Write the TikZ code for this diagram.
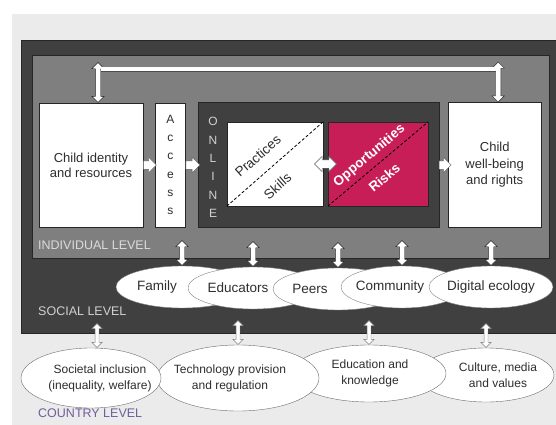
\documentclass[tikz,border=0pt]{standalone}
\usepackage{fontspec}
\setmainfont{Liberation Sans}
\usetikzlibrary{shapes.geometric, shapes.arrows, positioning, calc}

\definecolor{bggrey}{HTML}{EBEBEB}
\definecolor{socgrey}{HTML}{404040}
\definecolor{indgrey}{HTML}{7F7F7F}
\definecolor{edgegrey}{HTML}{262626}
\definecolor{txtgrey}{HTML}{2E2E2E}
\definecolor{riskred}{HTML}{C81E58}
\definecolor{countryviolet}{HTML}{6F5F9C}

\begin{document}
\begin{tikzpicture}[
	x=1pt, y=-1pt,
	box/.style={draw=edgegrey, fill=white, inner sep=0pt, align=center, text=txtgrey, font=\fontsize{13}{15}\selectfont},
	level/.style={draw=edgegrey, inner sep=0pt, anchor=north west},
	leveltext/.style={anchor=west, inner sep=0pt, font=\fontsize{12.5}{15}\selectfont},
	social/.style={ellipse, draw=gray, fill=white, inner sep=0pt, minimum height=42pt},
	socialtext/.style={inner sep=0pt, text=txtgrey, font=\fontsize{13.5}{16}\selectfont},
	country/.style={ellipse, draw=gray!85!black, fill=white, inner sep=0pt},
	countrytext/.style={inner sep=0pt, align=center, text=txtgrey, font=\fontsize{12}{16}\selectfont},
	updown/.style={double arrow, draw=edgegrey, fill=white, rotate=90, anchor=west, inner xsep=0pt, inner ysep=2.5pt, double arrow head extend=3.5pt},
	thinupdown/.style={updown, draw=gray, inner ysep=1.75pt, double arrow head extend=3.25pt},
	fwd/.style={single arrow, draw=gray!70!black, fill=white, anchor=west, inner xsep=0pt, inner ysep=4pt, single arrow head extend=3.5pt},
	diag/.style={dash pattern=on 3pt off 2pt, line width=0.8pt}
	]
	\useasboundingbox (0,0) rectangle (556,425);
	\fill[bggrey] (12,14) rectangle (556,425);

	% social and individual level
	\node[level, fill=socgrey, minimum width=537pt, minimum height=293pt] (soc) at (21,40) {};
	\node[level, fill=indgrey, minimum width=517pt, minimum height=203pt] (ind) at (32,55) {};
	\node[leveltext, text=white!86!black] (indlbl) at (38,245) {INDIVIDUAL LEVEL};
	\node[leveltext, text=white!82!black] (soclbl) at (38,311) {SOCIAL LEVEL};
	\node[leveltext, text=countryviolet] (ctylbl) at (38,413) {COUNTRY LEVEL};

	% individual level
	\node[box, minimum width=104pt, minimum height=124pt] (cid) at (91,165) {Child identity\\and resources};
	\node[box, minimum width=30pt, minimum height=124pt, font=\fontsize{12}{18.2}\selectfont] (acc) [right=12pt of cid] {A\\c\\c\\e\\s\\s};
	\node[level, fill=socgrey, minimum width=241pt, minimum height=125pt] (onl) [right=12pt of acc] {};
	\node[box, minimum width=93pt, minimum height=125pt, font=\fontsize{13}{16.5}\selectfont] (cwb) [right=9pt of onl] {Child\\well-being\\and rights};
	\node[align=center, text=white!82!black, font=\fontsize{12}{18.3}\selectfont] (onltxt) at (213,167.5) {O\\N\\L\\I\\N\\E};
	\node[box, minimum width=96pt, minimum height=84pt] (prac) at (275,164) {};
	\node[box, fill=riskred, minimum width=100pt, minimum height=84pt] (opp) at (378,164) {};
	\draw[diag] (prac.south west) -- (prac.north east)
		node[pos=0.44, sloped, above=12pt, socialtext] (practxt) {Practices}
		node[pos=0.40, sloped, below=13pt, socialtext] (skltxt) {Skills};
	\draw[diag] (opp.south west) -- (opp.north east)
		node[pos=0.49, sloped, above=5pt, socialtext, text=white, font=\fontsize{13.5}{16}\selectfont\bfseries] (opptxt) {Opportunities}
		node[pos=0.47, sloped, below=9pt, socialtext, text=white, font=\fontsize{13.5}{16}\selectfont\bfseries] (risktxt) {Risks};

	\node[fwd, minimum height=13pt] (fw1) at (cid.east) {};
	\node[fwd, minimum height=14pt] (fw2) at (acc.east) {};
	\node[fwd, minimum height=12pt] (fw3) at (onl.east) {};
	\node[double arrow, draw=gray!70!black, fill=white, inner xsep=0pt, inner ysep=4pt, double arrow head extend=3.5pt, minimum height=22pt] (pvo) at ($(prac.east)!0.5!(opp.west)$) {};

	% link between identity and well-being
	\node[updown, minimum height=40pt] (la) at ($(cid.north)+(7,0)$) {};
	\node[updown, minimum height=40pt] (ra) at ($(cwb.north)+(3.5,0)$) {};
	\coordinate (bar) at (0,69.5);
	\draw[draw=gray!60!black, double=white, double distance=4pt, shorten <=2.5pt, shorten >=2.5pt] (la.center |- bar) -- (ra.center |- bar);

	% social level
	\node[social, minimum width=132pt, label={[socialtext, xshift=-25pt]center:Family}] (fam) at (182,287) {};
	\node[social, minimum width=130pt, label={[socialtext, xshift=-15pt]center:Educators}] (edu) at (253,288) {};
	\node[social, minimum width=130pt, label={[socialtext, xshift=-28pt]center:Peers}] (peer) at (338,289) {};
	\node[social, minimum width=122pt, label={[socialtext, xshift=-12pt]center:Community}] (com) at (402,287) {};
	\node[social, minimum width=124pt, label={[socialtext]center:Digital ecology}] (dig) at (491,287) {};

	\node[updown, minimum height=25pt] (upfam) at (fam.north) {};
	\node[updown, minimum height=25pt] (upedu) at (edu.north) {};
	\node[updown, minimum height=25pt] (uppeer) at (peer.north) {};
	\node[updown, minimum height=25pt] (upcom) at (com.north) {};
	\node[updown, minimum height=25pt] (updig) at (dig.north) {};

	% country level
	\node[country, minimum width=136pt, minimum height=54pt, label={[countrytext, xshift=12pt]center:Culture, media\\and values}] (cul) at (486,375) {};
	\node[country, minimum width=154pt, minimum height=57pt, label={[countrytext, xshift=1pt]center:Education and\\knowledge}] (eduk) at (369,373.5) {};
	\node[country, minimum width=162pt, minimum height=66pt, label={[countrytext, xshift=-8pt]center:Technology provision\\and regulation}] (tech) at (238,378) {};
	\node[country, minimum width=140pt, minimum height=60pt, label={[countrytext, xshift=9pt]center:Societal inclusion\\(inequality, welfare)}] (soci) at (91,378) {};

	\node[thinupdown, minimum height=24pt] (dncul) at (cul.north) {};
	\node[thinupdown, minimum height=24pt] (dneduk) at (eduk.north) {};
	\node[thinupdown, minimum height=24pt] (dntech) at (tech.north) {};
	\node[thinupdown, minimum height=24pt] (dnsoci) at ($(soci.north)+(6,0)$) {};
\end{tikzpicture}
\end{document}
